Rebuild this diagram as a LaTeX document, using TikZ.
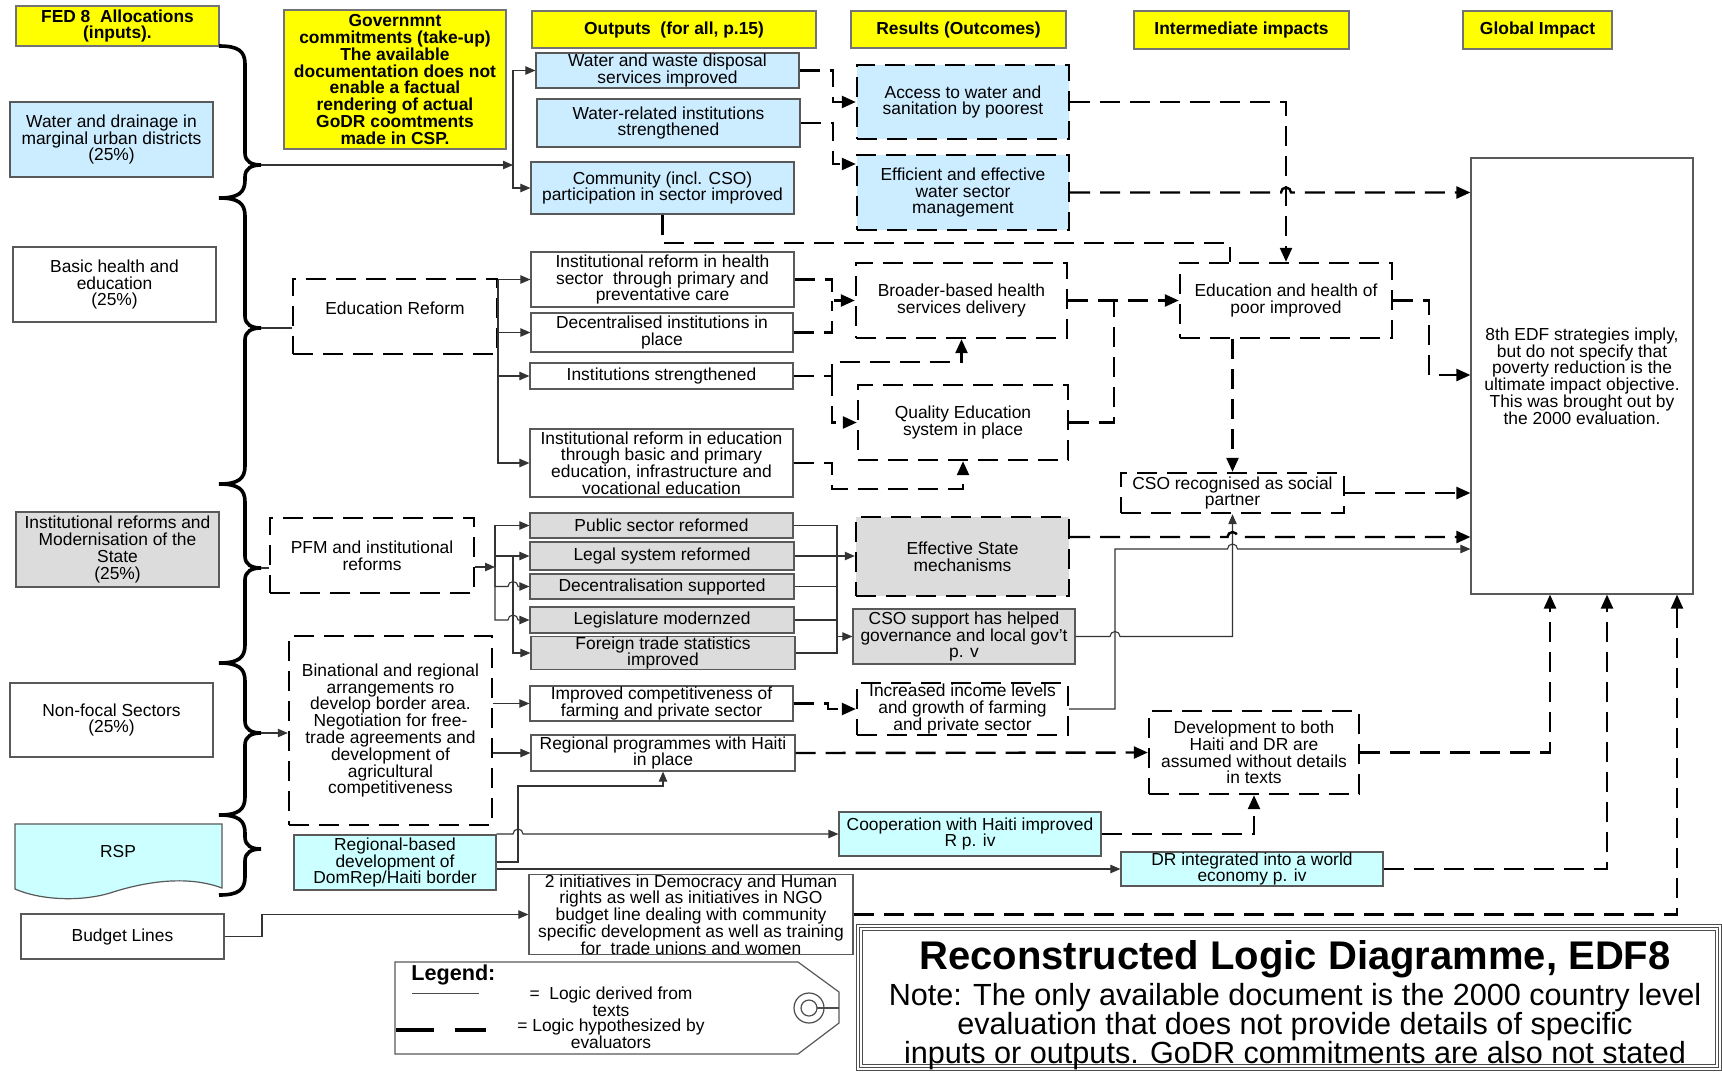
\documentclass[tikz,border=0pt]{standalone}
\usepackage{fontspec}
\setmainfont{Liberation Sans}
\usetikzlibrary{arrows.meta,calc}
\definecolor{ltblue}{HTML}{CCECFF}
\definecolor{ltcyan}{HTML}{CCFFFF}
\definecolor{ltgray}{HTML}{DCDCDC}
\definecolor{hdryellow}{HTML}{FFFF00}
\newcommand\mkbox[7]{%
  \pgfmathsetmacro\mkbw{(#5-#3)*0.5}%
  \pgfmathsetmacro\mkbh{(#6-#4)*0.5}%
  \node[#1, minimum width=\mkbw pt, minimum height=\mkbh pt] (#2) at ({(#3+#5)/2},{(#4+#6)/2}) {#7};}
\newcommand\mybrace[3]{%
  \draw[bracestyle] (219,#1) .. controls (238,#1) and (245,#1+5) .. (245,#1+18) -- (245,#2-12)
   .. controls (245,#2-3) and (252,#2) .. (261,#2) .. controls (252,#2) and (245,#2+3) .. (245,#2+12)
   -- (245,#3-18) .. controls (245,#3-5) and (238,#3) .. (219,#3);}
\begin{document}
\begin{tikzpicture}[x=0.5pt,y=-0.5pt,
  txtbase/.style={inner sep=0pt, align=center, font=\fontsize{8.7pt}{8.4pt}\selectfont},
  sbox/.style={txtbase, draw=black!65, line width=0.6pt, fill=white},
  bluebox/.style={sbox, fill=ltblue},
  cyanbox/.style={sbox, fill=ltcyan},
  graybox/.style={sbox, fill=ltgray},
  dbox/.style={txtbase, draw=black, line width=1.2pt, dash pattern=on 10pt off 5pt, fill=white},
  dbluebox/.style={dbox, fill=ltblue},
  dgraybox/.style={dbox, fill=ltgray},
  hdr/.style={txtbase, draw=black!55, line width=0.6pt, fill=hdryellow, font=\bfseries\fontsize{8.7pt}{8.4pt}\selectfont},
  cnS/.style={draw=black!80, line width=0.55pt, -{Triangle[length=5pt,width=4.2pt]}},
  cnSn/.style={draw=black!80, line width=0.55pt},
  cnD/.style={draw=black, line width=1.2pt, dash pattern=on 10pt off 5pt, -{Triangle[length=7pt,width=6pt]}},
  cnDn/.style={draw=black, line width=1.2pt, dash pattern=on 10pt off 5pt},
  bracestyle/.style={draw=black, line width=1.8pt},
]
\fill[white] (0,0) rectangle (1722,1072);
\useasboundingbox (0,0) rectangle (1722,1072);

% headers
\mkbox{hdr}{h1}{16}{6}{219}{46}{FED 8\ \ Allocations\\(inputs).}
\mkbox{hdr}{h2}{284}{10}{506}{149}{Governmnt\\commitments (take-up)\\The available\\documentation does not\\enable a factual\\rendering of actual\\GoDR coomtments\\made in CSP.}
\mkbox{hdr}{h3}{532}{11}{816}{48}{Outputs\ \ (for all, p.15)}
\mkbox{hdr}{h4}{851}{11}{1066}{48}{Results (Outcomes)}
\mkbox{hdr}{h5}{1134}{11}{1349}{49}{Intermediate impacts}
\mkbox{hdr}{h6}{1463}{11}{1612}{49}{Global Impact}

% inputs
\mkbox{bluebox}{in1}{10}{102}{213}{177}{Water and drainage in\\marginal urban districts\\(25\%)}
\mkbox{sbox}{in2}{13}{247}{216}{322}{Basic health and\\education\\(25\%)}
\mkbox{graybox}{in3}{16}{512}{219}{587}{Institutional reforms and\\Modernisation of the\\State\\(25\%)}
\mkbox{sbox}{in4}{10}{683}{213}{757}{Non-focal Sectors\\(25\%)}
\draw[black!65, line width=0.6pt, fill=ltcyan] (15,824) -- (222,824) -- (222,888)
  .. controls (190,876) and (150,880) .. (110,893) .. controls (80,902) and (40,900) .. (15,889) -- cycle;
\node[txtbase] (in5) at (118,851) {RSP};
\mkbox{sbox}{in6}{21}{914}{224}{959}{Budget Lines}

% braces
\mybrace{46}{165}{198}
\mybrace{198}{328}{484}
\mybrace{484}{568}{663}
\mybrace{663}{733}{815}
\mybrace{815}{849}{895}
\coordinate (t1) at (261,165);
\coordinate (t2) at (261,328);
\coordinate (t3) at (261,568);
\coordinate (t4) at (261,733);

% middle column
\mkbox{dbox}{m1}{293}{279}{497}{354}{Education Reform\\\mbox{}}
\mkbox{dbox}{m2}{270}{518}{474}{593}{PFM and institutional\\reforms}
\mkbox{dbox}{m3}{289}{636}{492}{825}{Binational and regional\\arrangements ro\\develop border area.\\Negotiation for free-\\trade agreements and\\development of\\agricultural\\competitiveness}
\mkbox{cyanbox}{m4}{294}{835}{496}{890}{Regional-based\\development of\\DomRep/Haiti border}

% outputs
\mkbox{bluebox}{o1}{536}{53}{799}{88}{Water and waste disposal\\services improved}
\mkbox{bluebox}{o2}{537}{99}{800}{147}{Water-related institutions\\strengthened}
\mkbox{bluebox}{o3}{531}{162}{794}{214}{Community (incl. CSO)\\participation in sector improved}
\mkbox{sbox}{o4}{531}{252}{794}{307}{Institutional reform in health\\sector\ \ through primary and\\preventative care}
\mkbox{sbox}{o5}{531}{313}{793}{352}{Decentralised institutions in\\place}
\mkbox{sbox}{o6}{530}{363}{793}{389}{Institutions strengthened}
\mkbox{sbox}{o7}{530}{429}{793}{497}{Institutional reform in education\\through basic and primary\\education, infrastructure and\\vocational education}
\mkbox{graybox}{o8}{530}{513}{793}{538}{Public sector reformed}
\mkbox{graybox}{o9}{530}{542}{794}{570}{Legal system reformed}
\mkbox{graybox}{o10}{530}{574}{794}{599}{Decentralisation supported}
\mkbox{graybox}{o11}{530}{607}{794}{633}{Legislature modernzed}
\mkbox{graybox}{o12}{531}{637}{795}{669}{Foreign trade statistics\\improved}
\mkbox{sbox}{o13}{530}{686}{793}{721}{Improved competitiveness of\\farming and private sector}
\mkbox{sbox}{o14}{531}{735}{795}{771}{Regional programmes with Haiti\\in place}
\mkbox{cyanbox}{o15}{839}{812}{1101}{856}{Cooperation with Haiti improved\\R p. iv}
\mkbox{cyanbox}{o16}{1121}{852}{1383}{886}{DR integrated into a world\\economy p. iv}
\mkbox{sbox}{o17}{529}{875}{853}{954}{2 initiatives in Democracy and Human\\rights as well as initiatives in NGO\\budget line dealing with community\\specific development as well as training\\for\ \ trade unions and women}

% results
\mkbox{dbluebox}{r1}{857}{65}{1069}{139}{Access to water and\\sanitation by poorest}
\mkbox{dbluebox}{r2}{857}{155}{1069}{230}{Efficient and effective\\water sector\\management}
\mkbox{dbox}{r3}{856}{263}{1067}{338}{Broader-based health\\services delivery}
\mkbox{dbox}{r4}{858}{385}{1068}{460}{Quality Education\\system in place}
\mkbox{dgraybox}{r5}{856}{517}{1069}{596}{Effective State\\mechanisms}
\mkbox{graybox}{r6}{853}{609}{1075}{664}{CSO support has helped\\governance and local gov't\\p. v}
\mkbox{dbox}{r7}{857}{683}{1068}{735}{Increased income levels\\and growth of farming\\and private sector}

% intermediate
\mkbox{dbox}{i1}{1180}{263}{1392}{338}{Education and health of\\poor improved}
\mkbox{dbox}{i2}{1121}{473}{1344}{513}{CSO recognised as social\\partner}
\mkbox{dbox}{i3}{1149}{711}{1359}{794}{Development to both\\Haiti and DR are\\assumed without details\\in texts}

% global
\mkbox{sbox}{g1}{1471}{158}{1693}{594}{8th EDF strategies imply,\\but do not specify that\\poverty reduction is the\\ultimate impact objective.\\This was brought out by\\the 2000 evaluation.}

% helper coordinates
\coordinate (bw) at (513,165);
\coordinate (be) at (498,279.5);
\coordinate (bp) at (495,567);
\coordinate (vG) at (837,0);
\coordinate (vCm) at (1230,0);
\coordinate (gA) at (1550,0);
\coordinate (gB) at (1607,0);
\coordinate (gC) at (1677,0);
\coordinate (lv164) at (0,164);
\coordinate (lv375) at (0,375);
\coordinate (lv537) at (0,537);
\coordinate (lv549) at (0,549);
\coordinate (lv862) at (0,862);

% ---------- solid connectors ----------
\draw[cnS] (t1) -- (bw);
\draw[cnS] (bw) |- (o1.west);
\draw[cnS] (bw) |- (o3.west);

\draw[cnSn] (t2) -- (t2 -| m1.west);
\draw[cnS] (be) -- (o4.west);
\draw[cnS] (be) |- (o5.west);
\draw[cnS] (be) |- (o6.west);
\draw[cnS] (be) |- (o7.west);

\draw[cnSn] (t3) -- (t3 -| m2.west);
\draw[cnS] (m2.east |- bp) -- (bp);
\draw[cnS] (bp) |- (o8.west);
\draw[cnS] (bp) |- (o9.west);
\draw[cnS] (bp) |- (508,586.5) arc[start angle=180,end angle=0,radius=2.5pt] -- (o10.west);
\draw[cnS] (bp) |- (508,620) arc[start angle=180,end angle=0,radius=2.5pt] -- (o11.west);
\draw[cnS] (495,556) -| (513,653) -- (o12.west);

\draw[cnSn] (o8.east) -| (837,653) -- (o12.east);
\draw[cnSn] (o10.east) -- (o10.east -| vG);
\draw[cnSn] (o11.east) -- (o11.east -| vG);
\draw[cnS] (o9.east) -- (o9.east -| r5.west);
\draw[cnS] (837,636.5) -- (r6.west);

\draw[cnS] (t4) -- (t4 -| m3.west);
\draw[cnS] (m3.east |- o13.west) -- (o13.west);
\draw[cnS] (m3.east |- o14.west) -- (o14.west);

\draw[cnS] (m4.east |- o15.west) -- (513,834) arc[start angle=180,end angle=0,radius=2.5pt] -- (o15.west);
\draw[cnS] (m4.east |- lv862) -| (518,786) -| (o14.south);
\draw[cnS] (m4.east |- o16.west) -- (o16.west);

\draw[cnS] (in6.east) -| (262,914.5) -- (o17.west);

\draw[cnS] (r6.east) -- (1110,636.5) arc[start angle=180,end angle=0,radius=2.5pt] -- (i2.south |- r6.east) -- (i2.south);
\draw[cnS] (r7.east) -| (1115,549) -- (1227.5,549) arc[start angle=180,end angle=0,radius=2.5pt] -- (g1.west |- lv549);

% ---------- dashed connectors ----------
\draw[cnD] (o1.east) -| (833,102) -- (r1.west);
\draw[cnD] (o2.east) -| (833,164) -- (r2.west |- lv164);
\draw[cnDn] (o3.south) |- (1230,243) -- (i1.north -| vCm);
\draw[cnD] (r1.east) -| (i1.north);
\draw[cnD] (r2.east) -- (1281,192.5) arc[start angle=180,end angle=0,radius=2.5pt] -- (g1.west |- r2.east);
\draw[cnD] (o4.east) -| (832,300.5) -- (r3.west);
\draw[cnDn] (o5.east) -| (832,300.5);
\draw[cnD] (o6.east) -- (832,376) |- (961.5,362) -- (r3.south);
\draw[cnD] (832,376) |- (r4.west);
\draw[cnD] (o7.east) -| (832,489) -| (r4.south);
\draw[cnD] (r3.east) -- (i1.west);
\draw[cnDn] (r4.east) -| (1114,300.5);
\draw[cnD] (i1.east) -| (1429,375) -- (g1.west |- lv375);
\draw[cnD] (i1.south -| i2.north) -- (i2.north);
\draw[cnD] (i2.east) -- (g1.west |- i2.east);
\draw[cnD] (r5.east |- lv537) -- (1227.5,537) arc[start angle=180,end angle=0,radius=2.5pt] -- (g1.west |- lv537);
\draw[cnD] (o13.east) -- (828,703.5) |- (r7.west);
\draw[cnD] (o14.east) -- (i3.west);
\draw[cnD] (o15.east) -| (i3.south);
\draw[cnD] (i3.east) -| (g1.south -| gA);
\draw[cnD] (o16.east) -| (g1.south -| gB);
\draw[cnD] (o17.east) -| (g1.south -| gC);

% ---------- legend ----------
\draw[black!65, line width=0.6pt, fill=white] (395,962) -- (798,962) -- (839,992) -- (839,1023) -- (798,1054) -- (395,1054) -- cycle;
\draw[black!70, line width=0.6pt] (809,1008) circle[radius=7.5pt];
\draw[black!70, line width=0.6pt] (809,1008) circle[radius=4pt];
\draw[black!70, line width=0.6pt] (817,1008) -- (839,1008);
\node[anchor=west, inner sep=0pt, font=\bfseries\fontsize{10.8pt}{12pt}\selectfont] (lgt) at (411,975) {Legend:};
\draw[black!70, line width=0.5pt] (412,993) -- (479,993);
\draw[line width=2pt] (396,1030) -- (434,1030) (455,1030) -- (486,1030);
\node[txtbase] (lg1) at (611,1001.5) {=\ \ Logic derived from\\texts};
\node[txtbase] (lg2) at (611,1033.5) {= Logic hypothesized by\\evaluators};

% ---------- title ----------
\draw[black!70, line width=0.5pt, fill=white] (856,924) rectangle (1721,1070);
\draw[black!70, line width=0.5pt] (859,927) rectangle (1718,1067);
\draw[black!70, line width=0.5pt] (862,930) rectangle (1715,1064);
\node[inner sep=0pt, font=\bfseries\fontsize{20pt}{22pt}\selectfont] (ttl) at (1295,959) {Reconstructed Logic Diagramme, EDF8};
\node[inner sep=0pt, align=center, font=\fontsize{15.3pt}{14.5pt}\selectfont] (note) at (1295,1027) {Note: The only available document is the 2000 country level\\evaluation that does not provide details of specific\\inputs or outputs. GoDR commitments are also not stated};
\end{tikzpicture}
\end{document}
